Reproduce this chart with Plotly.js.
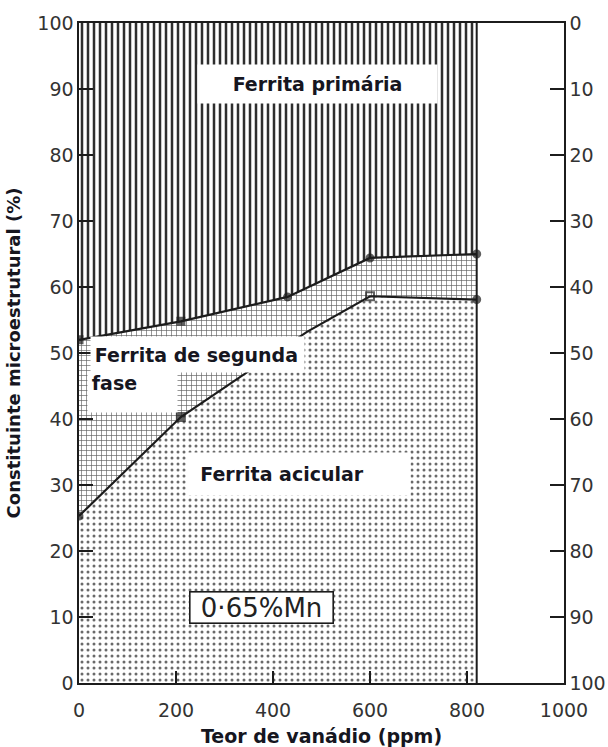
<!DOCTYPE html>
<html>
<head>
<meta charset="utf-8">
<script src="https://cdn.plot.ly/plotly-3.0.1.min.js"></script>
<style>
  html, body { margin: 0; padding: 0; background: #fff; }
  #chart { width: 608px; height: 747px; }
</style>
</head>
<body>
<div id="chart"></div>
<script>
// Teor de vanádio (ppm) nos pontos medidos
const vanadioSup = [0, 210, 430, 600, 820];
// limite inferior da ferrita primária (%)
const limiteFerritaPrimaria = [52, 54.8, 58.5, 64.4, 65];
const simbolosSup = ['square', 'square', 'circle', 'circle', 'circle'];
const tamanhosSup = [7, 7, 7, 7, 7];

const vanadioInf = [0, 210, 470, 600, 820];
// limite superior da ferrita acicular (%)
const limiteFerritaAcicular = [25.3, 40.3, 53.2, 58.6, 58.1];
const simbolosInf = ['circle', 'square', 'circle', 'square-open', 'circle'];
const tamanhosInf = [7, 8, 0, 8, 7];

// extremos do domínio com dados
const vanadioFaixa = [0, 820];
const base = [0, 0];
const topo = [100, 100];

// eixos
const xTicks = [0, 200, 400, 600, 800, 1000];
const yTicks = [0, 10, 20, 30, 40, 50, 60, 70, 80, 90, 100];

const tinta = '#1c1c1c';
const fonteEixo = { family: 'DejaVu Sans', size: 19, color: '#333' };
const fonteRotulo = { family: 'DejaVu Sans', size: 19, weight: 'bold', color: '#16161f' };

const traces = [
  // base do gráfico (y = 0)
  { x: vanadioFaixa, y: base, mode: 'lines', line: { width: 0 }, hoverinfo: 'skip' },
  // ferrita acicular: pontilhado
  { x: vanadioInf, y: limiteFerritaAcicular, mode: 'lines', line: { width: 0 },
    fill: 'tonexty', fillcolor: 'rgba(0,0,0,0)',
    fillpattern: { shape: '.', size: 6, solidity: 0.2, fgcolor: '#6a6a6a', bgcolor: '#fff' } },
  // ferrita de segunda fase: quadriculado
  { x: vanadioSup, y: limiteFerritaPrimaria, mode: 'lines', line: { width: 0 },
    fill: 'tonexty', fillcolor: 'rgba(0,0,0,0)',
    fillpattern: { shape: '+', size: 5, solidity: 0.24, fgcolor: '#5e5e5e', bgcolor: '#fff' } },
  // ferrita primária: hachurado vertical
  { x: vanadioFaixa, y: topo, mode: 'lines', line: { width: 0 },
    fill: 'tonexty', fillcolor: 'rgba(0,0,0,0)',
    fillpattern: { shape: '|', size: 6, solidity: 0.42, fgcolor: '#2e2e2e', bgcolor: '#fff' } },
  // limite direito dos dados
  { x: [vanadioFaixa[1], vanadioFaixa[1]], y: [base[1], topo[1]], mode: 'lines',
    line: { color: tinta, width: 2 } },
  // curvas de fronteira com os pontos medidos
  { x: vanadioSup, y: limiteFerritaPrimaria, mode: 'lines+markers',
    line: { color: tinta, width: 2.2 },
    marker: { color: tinta, size: tamanhosSup, symbol: simbolosSup, line: { color: tinta, width: 2 } } },
  { x: vanadioInf, y: limiteFerritaAcicular, mode: 'lines+markers',
    line: { color: tinta, width: 2.2 },
    marker: { color: tinta, size: tamanhosInf, symbol: simbolosInf, line: { color: tinta, width: 2 } } },
  // eixo da direita (escala invertida)
  { x: [null], y: [null], yaxis: 'y2', mode: 'lines', hoverinfo: 'skip' }
];

const eixoBase = {
  showgrid: false, zeroline: false, showline: true,
  linecolor: tinta, linewidth: 1.6,
  ticks: 'inside', ticklen: 14, tickwidth: 1.6, tickcolor: tinta,
  tickfont: fonteEixo, fixedrange: true
};

const layout = {
  width: 608, height: 747,
  margin: { l: 79, r: 44, t: 23, b: 64 },
  paper_bgcolor: '#fff', plot_bgcolor: '#fff',
  showlegend: false,
  xaxis: Object.assign({}, eixoBase, {
    range: [0, 1000], tickvals: xTicks, ticklen: 12,
    mirror: true, ticklabelstandoff: 10,
    title: { text: 'Teor de vanádio (ppm)', font: fonteRotulo, standoff: 14 }
  }),
  yaxis: Object.assign({}, eixoBase, {
    range: [0, 100], tickvals: yTicks,
    title: { text: 'Constituinte microestrutural (%)', font: Object.assign({}, fonteRotulo, { size: 18 }), standoff: 12 }
  }),
  yaxis2: Object.assign({}, eixoBase, {
    range: [100, 0], tickvals: yTicks, overlaying: 'y', side: 'right'
  }),
  annotations: [
    { x: 491, y: 90.8, xref: 'x', yref: 'y', text: 'Ferrita primária', showarrow: false,
      bgcolor: '#fff', width: 239, height: 38, borderpad: 0, font: fonteRotulo },
    { x: 244, y: 49.8, xref: 'x', yref: 'y', text: '\u2009Ferrita de segunda', showarrow: false,
      bgcolor: '#fff', width: 213, height: 35, borderpad: 0, align: 'left', font: fonteRotulo },
    { x: 110, y: 44.1, xref: 'x', yref: 'y', text: '\u2009fase', showarrow: false,
      bgcolor: '#fff', width: 89, height: 40, borderpad: 0, align: 'left', valign: 'top', font: fonteRotulo },
    { x: 452, y: 31.7, xref: 'x', yref: 'y', text: '&nbsp;&nbsp;Ferrita acicular', showarrow: false,
      bgcolor: '#fff', width: 223, height: 42, borderpad: 0, align: 'left', font: fonteRotulo },
    { x: 377, y: 11.4, xref: 'x', yref: 'y', text: '0·65%Mn', showarrow: false,
      bgcolor: '#fff', bordercolor: tinta, borderwidth: 1.6, borderpad: 1,
      width: 140, height: 28,
      font: { family: 'DejaVu Sans', size: 26, color: '#222' } }
  ]
};

Plotly.newPlot('chart', traces, layout, { displayModeBar: false, staticPlot: true });
</script>
</body>
</html>
